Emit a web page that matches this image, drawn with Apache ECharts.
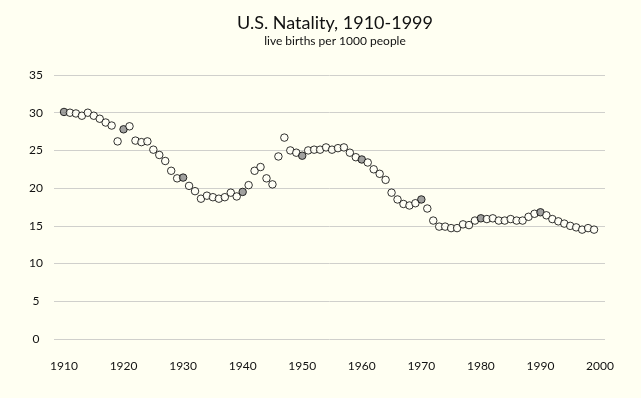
<!DOCTYPE html>
<html>
<head>
<meta charset="utf-8">
<script src="https://cdn.jsdelivr.net/npm/echarts@6/dist/echarts.min.js"></script>
<style>
  html, body { margin: 0; padding: 0; background: #fffff2; }
  #natality { width: 641px; height: 398px; }
</style>
</head>
<body>
<div id="natality"></div>
<script>
// live births per 1000 people, one value per year from 1910
var firstYear = 1910;
var births = [
    30.1, 30.0, 29.9, 29.6, 30.0, 29.6, 29.2, 28.7, 28.3, 26.2,
    27.8, 28.2, 26.3, 26.1, 26.2, 25.1, 24.4, 23.6, 22.3, 21.3,
    21.4, 20.3, 19.6, 18.6, 19.0, 18.8, 18.6, 18.8, 19.4, 18.9,
    19.5, 20.4, 22.3, 22.8, 21.3, 20.5, 24.2, 26.7, 25.0, 24.7,
    24.3, 25.0, 25.1, 25.1, 25.4, 25.1, 25.3, 25.4, 24.7, 24.1,
    23.8, 23.4, 22.5, 21.9, 21.1, 19.4, 18.5, 17.9, 17.7, 18.0,
    18.5, 17.3, 15.7, 14.9, 14.9, 14.7, 14.7, 15.2, 15.1, 15.7,
    16.0, 15.9, 16.0, 15.7, 15.7, 15.9, 15.7, 15.7, 16.2, 16.6,
    16.8, 16.4, 15.9, 15.6, 15.3, 15.0, 14.8, 14.5, 14.7, 14.5
];
var yTicks = [0, 35, 5];        // min, max, step
var xTicks = [1910, 2000, 10];

var chart = echarts.init(document.getElementById('natality'));

var points = births.map(function (v, i) {
    var year = firstYear + i;
    var p = { value: [year, v] };
    // every decade year is drawn filled grey
    if (year % 10 === 0) {
        p.itemStyle = { color: '#8a8a8a' };
    }
    return p;
});

var font = 'Lato, "DejaVu Sans", sans-serif';

option = {
    backgroundColor: '#fffff2',
    animation: false,
    title: {
        text: 'U.S. Natality, 1910-1999',
        subtext: 'live births per 1000 people',
        left: 330,
        textAlign: 'center',
        top: 9,
        itemGap: 3,
        textStyle: { fontFamily: font, fontSize: 18, fontWeight: 'normal', color: '#111' },
        subtextStyle: { fontFamily: font, fontSize: 12, color: '#111' }
    },
    grid: [
        // grid 0: gridlines and y labels
        { left: 54, right: 36, top: 75, bottom: 59 },
        // grid 1: the data
        { left: 64, right: 41, top: 75, bottom: 59 }
    ],
    xAxis: [
        { gridIndex: 0, type: 'value', min: 0, max: 1, show: false },
        {
            gridIndex: 1, type: 'value',
            min: xTicks[0], max: xTicks[1], interval: xTicks[2],
            axisLine: { show: false },
            axisTick: { show: false },
            splitLine: { show: false },
            axisLabel: {
                margin: 21, fontFamily: font, fontSize: 12, color: '#111',
                formatter: function (v) { return String(v); }
            }
        }
    ],
    yAxis: [
        {
            gridIndex: 0, type: 'value',
            min: yTicks[0], max: yTicks[1], interval: yTicks[2],
            axisLine: { show: false },
            axisTick: { show: false },
            splitLine: { lineStyle: { color: '#d0d0cc', width: 1 } },
            axisLabel: { margin: 18, align: 'center', fontFamily: font, fontSize: 12, color: '#111' }
        },
        {
            gridIndex: 1, type: 'value',
            min: yTicks[0], max: yTicks[1], show: false
        }
    ],
    series: [
        {
            name: 'births',
            type: 'scatter',
            xAxisIndex: 1,
            yAxisIndex: 1,
            symbol: 'circle',
            symbolSize: 7.5,
            itemStyle: { color: '#fffff6', borderColor: '#000', borderWidth: 1 },
            data: points
        }
    ]
};

chart.setOption(option);
</script>
</body>
</html>
